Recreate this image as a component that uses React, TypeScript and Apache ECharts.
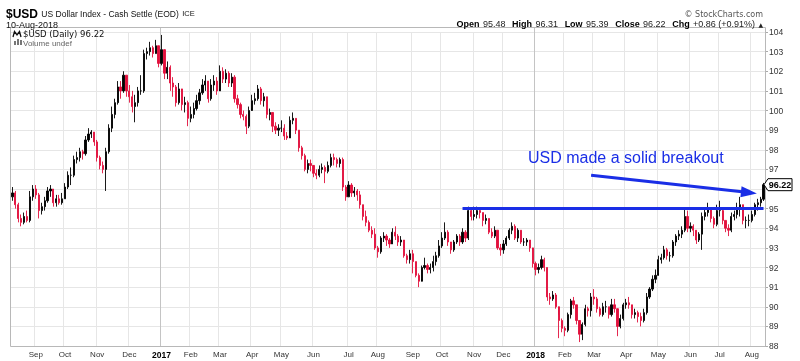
import React, { useEffect, useRef } from 'react';
import * as echarts from 'echarts';

// ---- axis / category definitions ----
const monthKeys = ['2016-08','2016-09','2016-10','2016-11','2016-12','2017-01','2017-02','2017-03','2017-04','2017-05','2017-06','2017-07','2017-08','2017-09','2017-10','2017-11','2017-12','2018-01','2018-02','2018-03','2018-04','2018-05','2018-06','2018-07','2018-08'];
const monthNames = ['Jan','Feb','Mar','Apr','May','Jun','Jul','Aug','Sep','Oct','Nov','Dec'];
const yMin = 88;
const yMax = 104;

// ---- price data: 2-trading-day bars, [close, high, low]; open = previous close ----
const firstOpen = 95.6;
const aug16 = [[95.8,96.1,95.4],[95.2,95.9,95.0],[94.5,95.3,94.3],[94.3,94.7,94.1],[94.6,94.8,94.2],[94.4,94.9,94.3],[95.6,95.9,94.3],[96.0,96.2,95.4]];
const sep16 = [[95.7,96.2,95.5],[94.9,95.8,94.5],[95.1,95.3,94.7],[95.4,95.6,94.9],[95.9,96.1,95.3],[96.0,96.2,95.6],[95.3,96.0,95.1],[95.5,95.7,95.1],[95.3,95.7,95.2],[95.5,95.8,95.2]];
const oct16 = [[96.1,96.3,95.5],[96.7,96.9,96.0],[96.7,97.1,96.2],[97.5,97.7,96.6],[97.6,97.9,97.3],[97.9,98.1,97.4],[97.8,98.0,97.5],[98.5,98.7,97.7],[98.8,99.1,98.4],[98.9,99.0,98.6],[98.4,98.9,98.2]];
const nov16 = [[97.6,98.5,97.4],[97.2,97.7,97.0],[97.0,97.4,96.8],[97.9,98.1,95.9],[99.1,99.3,97.8],[99.8,100.2,98.9],[100.4,100.6,99.6],[101.2,101.5,100.3],[101.0,101.5,100.6],[101.8,102.0,100.9],[101.0,101.8,100.7]];
const dec16 = [[100.7,101.3,100.4],[100.2,101.0,99.9],[100.4,100.8,99.4],[101.0,101.2,100.2],[101.0,101.8,100.8],[102.9,103.1,100.9],[103.0,103.2,102.6],[103.2,103.5,102.8],[102.9,103.3,102.7],[103.3,103.6,102.9],[102.4,103.3,102.2]];
const jan17 = [[103.1,103.85,102.3],[101.9,103.0,101.6],[102.2,102.5,101.6],[101.4,102.3,101.0],[101.2,101.7,100.7],[100.4,101.3,100.2],[101.1,101.4,100.3],[100.3,101.0,100.0],[100.4,100.7,99.9],[99.6,100.5,99.2]];
const feb17 = [[99.8,100.2,99.4],[100.1,100.4,99.6],[100.5,100.8,100.0],[100.9,101.1,100.3],[101.3,101.6,100.8],[101.5,101.8,101.0],[100.6,101.5,100.4],[101.3,101.6,100.5],[101.5,101.8,101.0],[101.0,101.7,100.8]];
const mar17 = [[102.0,102.3,101.1],[101.6,102.2,101.4],[101.9,102.1,101.4],[101.4,102.0,101.2],[101.7,101.9,101.2],[100.6,101.8,100.4],[100.3,100.8,100.1],[99.8,100.4,99.6],[99.7,100.0,99.5],[99.2,99.8,98.8],[100.0,100.2,99.1]];
const apr17 = [[100.5,100.8,100.1],[100.6,100.9,100.3],[101.1,101.3,100.5],[100.5,101.2,100.3],[100.7,100.9,100.2],[99.8,100.7,99.6],[99.9,100.1,99.5],[99.2,99.9,98.9],[99.0,99.4,98.8],[99.1,99.3,98.7]];
const may17 = [[99.1,99.5,98.9],[98.7,99.3,98.5],[98.6,98.9,98.5],[99.5,99.7,98.7],[99.6,99.9,99.3],[99.0,99.6,98.8],[98.1,99.0,97.9],[97.7,98.2,97.5],[97.0,97.8,96.9],[97.3,97.5,96.8],[97.2,97.5,96.9]];
const jun17 = [[96.8,97.1,96.6],[96.7,97.0,96.5],[97.0,97.2,96.6],[97.1,97.3,96.8],[96.9,97.2,96.3],[97.2,97.4,96.8],[97.6,97.8,97.1],[97.5,97.8,97.2],[97.3,97.6,97.1],[97.5,97.6,97.1],[96.1,97.6,95.9],[95.6,96.2,95.4]];
const jul17 = [[96.2,96.4,95.6],[95.8,96.3,95.6],[95.9,96.1,95.6],[95.7,96.0,95.4],[95.2,95.9,95.0],[94.6,95.2,94.4],[94.3,94.9,94.1],[93.9,94.4,93.8],[93.7,94.1,93.5],[93.0,94.0,92.9]];
const aug17 = [[92.8,93.1,92.5],[93.5,93.6,92.7],[93.6,93.8,93.3],[93.4,93.7,93.1],[93.2,93.5,93.0],[93.8,94.0,93.2],[93.6,94.1,93.4],[93.3,93.7,93.1],[93.4,93.6,93.1],[92.6,93.4,92.5],[92.4,92.7,92.2],[92.7,92.9,92.2]];
const sep17 = [[92.3,92.9,91.7],[91.6,92.3,91.5],[91.3,91.7,91.0],[92.0,92.1,91.4],[92.1,92.5,91.9],[91.9,92.2,91.7],[92.0,92.2,91.7],[92.3,92.6,91.8],[92.6,92.8,92.1],[93.1,93.4,92.5]];
const oct17 = [[93.5,93.8,93.0],[93.8,94.3,93.4],[93.3,93.9,93.1],[92.9,93.3,92.7],[93.3,93.4,92.8],[93.6,93.7,93.2],[93.3,93.7,93.1],[93.8,94.0,93.2],[93.5,93.9,93.3],[94.9,95.1,93.4],[94.6,95.0,94.4]];
const nov17 = [[94.7,95.1,94.4],[94.9,95.1,94.5],[94.8,95.0,94.5],[94.4,94.8,94.1],[94.5,94.7,94.2],[93.8,94.5,93.7],[93.6,94.0,93.5],[93.9,94.1,93.5],[93.0,93.9,92.9],[92.9,93.2,92.6]];
const dec17 = [[93.2,93.4,92.7],[93.5,93.6,93.1],[93.9,94.0,93.4],[94.1,94.3,93.7],[93.5,94.2,93.4],[93.9,94.0,93.3],[93.3,93.9,93.2],[93.3,93.5,93.1],[93.4,93.5,93.1],[93.0,93.4,92.8],[92.2,92.9,92.0]];
const jan18 = [[91.9,92.3,91.6],[92.0,92.2,91.7],[92.4,92.6,91.9],[92.0,92.5,91.8],[90.5,92.0,90.3],[90.4,90.7,90.1],[90.6,90.8,90.3],[90.0,90.7,89.9],[89.3,89.6,88.4],[88.9,89.4,88.7]];
const feb18 = [[88.8,89.0,88.5],[89.6,89.7,88.7],[90.3,90.4,89.4],[90.1,90.5,89.9],[89.3,90.1,89.1],[88.6,89.3,88.2],[89.1,89.2,88.3],[89.9,90.1,89.0],[89.8,90.0,89.5],[90.5,90.7,89.5]];
const mar18 = [[90.4,90.9,90.1],[89.9,90.5,89.7],[89.6,90.0,89.5],[90.0,90.2,89.5],[90.0,90.3,89.7],[89.6,90.0,89.4],[90.1,90.4,89.5],[89.9,90.4,89.7],[89.0,89.7,88.5],[89.4,89.6,88.9],[90.1,90.2,89.3]];
const apr18 = [[90.2,90.4,89.9],[90.1,90.5,89.9],[89.6,90.1,89.4],[89.7,89.9,89.4],[89.5,89.8,89.2],[89.3,89.7,89.0],[89.7,89.9,89.2],[90.5,90.7,89.6],[90.9,91.0,90.4],[91.4,91.6,90.8],[91.6,91.9,91.2]];
const may18 = [[92.4,92.6,91.7],[92.5,92.7,92.2],[92.9,93.1,92.4],[92.6,93.0,92.4],[92.6,92.8,92.3],[93.3,93.4,92.5],[93.6,93.7,93.1],[93.7,93.9,93.4],[93.9,94.1,93.5],[94.6,95.0,93.8],[94.0,94.9,93.8]];
const jun18 = [[94.1,94.3,93.8],[93.9,94.2,93.6],[93.4,93.9,93.2],[93.7,93.8,93.3],[94.6,94.8,92.9],[94.8,95.0,94.4],[95.0,95.3,94.6],[94.5,95.0,94.3],[94.2,94.6,94.0],[94.9,95.2,94.1]];
const jul18 = [[94.9,95.4,94.6],[94.4,95.0,94.2],[94.0,94.4,93.8],[93.9,94.2,93.6],[94.6,94.8,93.8],[94.7,94.9,94.4],[95.0,95.3,94.5],[95.2,95.6,94.6],[94.4,95.2,94.2],[94.4,94.6,94.0],[94.4,94.7,94.1]];
const aug18 = [[94.7,94.9,94.3],[95.2,95.3,94.6],[95.3,95.5,94.9],[95.48,95.6,95.1],[96.22,96.31,95.39]];
const monthBars = [aug16,sep16,oct16,nov16,dec16,jan17,feb17,mar17,apr17,may17,jun17,jul17,aug17,sep17,oct17,nov17,dec17,jan18,feb18,mar18,apr18,may18,jun18,jul18,aug18];

// ---- header texts ----
const quoteLabels = ['Open','High','Low','Close','Chg'];
const quoteValues = ['95.48','96.31','95.39','96.22','+0.86 (+0.91%)'];

// ---- annotation anchors (bar index, price) ----
const breakoutLevel = 95;
const breakoutStartIdx = 154;
const arrowFrom = [198, 96.7];
const arrowTo = [252, 95.82];

// ---- build category axis and OHLC table ----
const cats: string[] = [];
const labelText: string[] = [];
const monthStart: boolean[] = [];
const yearStart: number[] = [];
const ohlc: number[][] = [];
let prevClose = firstOpen;
monthBars.forEach((bars, m) => {
  const [yy, mo] = monthKeys[m].split('-').map(Number);
  bars.forEach((b, j) => {
    const idx = cats.length;
    cats.push(`${monthKeys[m]}-${j}`);
    const isStart = j === 0 && m > 0;
    monthStart.push(isStart);
    if (isStart && mo === 1) yearStart.push(idx);
    labelText.push(isStart ? (mo === 1 ? `{y|${yy}}` : monthNames[mo - 1]) : '');
    const [c, h, l] = b;
    ohlc.push([prevClose, c, l, h]);
    prevClose = c;
  });
});

const BLUE = '#1a2ee6';
const RED = '#e2103c';

export default function App() {
  const ref = useRef<HTMLDivElement>(null);
  useEffect(() => {
    const el = ref.current!;
    const chart = echarts.init(el, null, { renderer: 'svg' });
    const lastIdx = ohlc.length - 1;
    chart.setOption({
      animation: false,
      grid: { left: 11, right: 35, top: 32, bottom: 15, containLabel: false },
      xAxis: {
        type: 'category',
        data: cats,
        boundaryGap: true,
        axisLine: { show: false },
        axisTick: { show: false },
        axisLabel: {
          interval: (i: number) => monthStart[i],
          formatter: (_v: string, i: number) => labelText[i],
          fontSize: 8,
          color: '#333',
          margin: 4,
          fontFamily: 'Liberation Sans',
          rich: { y: { fontWeight: 'bold', fontSize: 8.5, color: '#000', fontFamily: 'Liberation Sans' } },
        },
        splitLine: {
          show: true,
          interval: (i: number) => monthStart[i] && yearStart.indexOf(i) < 0,
          lineStyle: { color: '#e6e6e6', width: 1 },
        },
      },
      yAxis: {
        type: 'value',
        position: 'right',
        min: yMin,
        max: yMax,
        interval: 1,
        axisLine: { show: false },
        axisTick: { show: true, length: 3, lineStyle: { color: '#aaa' } },
        axisLabel: {
          fontSize: 8.5,
          color: '#333',
          margin: 4,
          fontFamily: 'Liberation Sans',
          formatter: (v: number) => (v === 96 ? '' : String(v)),
        },
        splitLine: { lineStyle: { color: '#e6e6e6', width: 1 } },
      },
      series: [
        {
          type: 'candlestick',
          data: ohlc,
          barWidth: 1.7,
          z: 3,
          itemStyle: { color: '#000', color0: RED, borderColor: '#000', borderColor0: RED, borderWidth: 0.9 },
          markLine: {
            silent: true,
            animation: false,
            symbol: ['none', 'none'],
            label: { show: false },
            lineStyle: { color: BLUE, width: 3, type: 'solid' },
            emphasis: { disabled: true },
            data: [
              [{ coord: [breakoutStartIdx, breakoutLevel] }, { coord: [lastIdx, breakoutLevel] }],
              [
                { coord: arrowFrom, symbol: 'none' },
                { coord: arrowTo, symbol: 'triangle', symbolSize: [11, 16] },
              ],
            ],
          },
        },
      ],
    });

    const toPx = (i: number, v: number) => chart.convertToPixel({ gridIndex: 0 }, [i, v]) as number[];
    const tagY = toPx(lastIdx, ohlc[lastIdx][1])[1];
    const yearXs = yearStart.map((i) => (toPx(i, yMin)[0] + toPx(i - 1, yMin)[0]) / 2);

    const graphics: any[] = [
      { type: 'rect', z: 50, shape: { x: 10.5, y: 27.5, width: 755, height: 319 }, style: { fill: 'none', stroke: '#b8b8b8', lineWidth: 1 } },
      ...yearXs.map((x) => ({
        type: 'line', z: 1, shape: { x1: Math.round(x) + 0.5, y1: 28, x2: Math.round(x) + 0.5, y2: 346 },
        style: { stroke: '#c4c4c4', lineWidth: 1 },
      })),
      {
        type: 'text', z: 60, x: 6, y: 13.5,
        style: {
          text: '{s|$USD} {n|US Dollar Index - Cash Settle (EOD)} {i|ICE}',
          textVerticalAlign: 'middle', verticalAlign: 'middle',
          rich: {
            s: { fontSize: 12, fontWeight: 'bold', fontFamily: 'Liberation Sans', fill: '#000', color: '#000' },
            n: { fontSize: 8.5, fontFamily: 'Liberation Sans', fill: '#111', color: '#111' },
            i: { fontSize: 7.5, fontFamily: 'Liberation Sans', fill: '#111', color: '#111' },
          },
        },
      },
      {
        type: 'text', z: 60, x: 6, y: 24.5,
        style: { text: '10-Aug-2018', fontSize: 9, fontFamily: 'Liberation Sans', fill: '#111', textVerticalAlign: 'middle', verticalAlign: 'middle' },
      },
      {
        type: 'text', z: 60, x: 763, y: 14,
        style: { text: '\u00a9 StockCharts.com', fontSize: 8, fontFamily: 'DejaVu Sans', fill: '#555', textAlign: 'right', align: 'right', textVerticalAlign: 'middle', verticalAlign: 'middle' },
      },
      {
        type: 'text', z: 60, x: 763, y: 24,
        style: {
          text: quoteLabels.map((l, k) => `{b|${l}} {v|${quoteValues[k]}}`).join('  ') + ' {t|\u25B2}',
          textAlign: 'right', align: 'right', textVerticalAlign: 'middle', verticalAlign: 'middle',
          rich: {
            b: { fontSize: 9, fontWeight: 'bold', fontFamily: 'Liberation Sans', fill: '#000', color: '#000' },
            v: { fontSize: 9, fontFamily: 'Liberation Sans', fill: '#222', color: '#222' },
            t: { fontSize: 6, fontFamily: 'DejaVu Sans', fill: '#222', color: '#222' },
          },
        },
      },
      // legend icons
      { type: 'polyline', z: 60, shape: { points: [[13, 37], [14.5, 31.5], [17, 35], [19.5, 31.5], [21, 37]] }, style: { stroke: '#111', lineWidth: 1.3, fill: 'none' } },
      { type: 'rect', z: 60, shape: { x: 14, y: 41, width: 2, height: 4 }, style: { fill: '#777' } },
      { type: 'rect', z: 60, shape: { x: 17, y: 39, width: 2, height: 6 }, style: { fill: '#777' } },
      { type: 'rect', z: 60, shape: { x: 20, y: 40, width: 2, height: 5 }, style: { fill: '#777' } },
      {
        type: 'text', z: 60, x: 23, y: 34,
        style: { text: '$USD (Daily) 96.22', fontSize: 8.5, fontFamily: 'DejaVu Sans', fill: '#111', textVerticalAlign: 'middle', verticalAlign: 'middle' },
      },
      {
        type: 'text', z: 60, x: 23, y: 43,
        style: { text: 'Volume undef', fontSize: 8, fontFamily: 'Liberation Sans', fill: '#666', textVerticalAlign: 'middle', verticalAlign: 'middle' },
      },
      // annotation
      {
        type: 'text', z: 60, x: 528, y: 157,
        style: { text: 'USD made a solid breakout', fontSize: 16, fontFamily: 'Liberation Sans', fill: BLUE, textVerticalAlign: 'middle', verticalAlign: 'middle' },
      },
      // last price tag
      {
        type: 'polygon', z: 70,
        shape: { points: [[764, tagY], [768, tagY - 6], [792, tagY - 6], [792, tagY + 6], [768, tagY + 6]] },
        style: { fill: '#fff', stroke: '#000', lineWidth: 1 },
      },
      {
        type: 'text', z: 71, x: 780, y: tagY,
        style: { text: '96.22', fontSize: 9, fontWeight: 'bold', fontFamily: 'Liberation Sans', fill: '#000', textAlign: 'center', align: 'center', textVerticalAlign: 'middle', verticalAlign: 'middle' },
      },
    ];
    chart.setOption({ graphic: graphics });
    return () => chart.dispose();
  }, []);
  return <div ref={ref} style={{ position: 'fixed', left: 0, top: 0, width: 800, height: 361 }} />;
}
